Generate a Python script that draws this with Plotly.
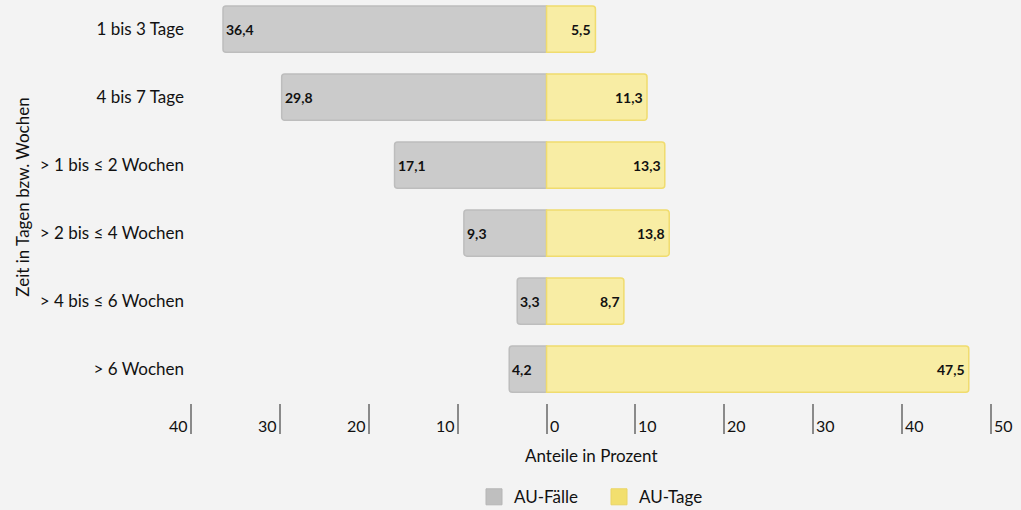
import plotly.graph_objects as go

categories = ["1 bis 3 Tage", "4 bis 7 Tage", "> 1 bis ≤ 2 Wochen", "> 2 bis ≤ 4 Wochen", "> 4 bis ≤ 6 Wochen", "> 6 Wochen"]
au_faelle = [36.4, 29.8, 17.1, 9.3, 3.3, 4.2]
au_tage = [5.5, 11.3, 13.3, 13.8, 8.7, 47.5]
tick_vals = [-40, -30, -20, -10, 0, 10, 20, 30, 40, 50]

FONT = "Lato, Roboto, sans-serif"
BG = "#f3f3f3"

def fmt(v):
    return f"{v:.1f}".replace(".", ",")

fig = go.Figure()
fig.add_trace(go.Bar(
    y=categories, x=[-v for v in au_faelle], orientation="h", name="AU-Fälle",
    marker=dict(color="#cbcbcb", line=dict(color="#bdbdbd", width=1.5), cornerradius=3),
    width=0.68, hoverinfo="skip", showlegend=False,
))
fig.add_trace(go.Bar(
    y=categories, x=au_tage, orientation="h", name="AU-Tage",
    marker=dict(color="#f8eda4", line=dict(color="#f0dc6e", width=1.5), cornerradius=3),
    width=0.68, hoverinfo="skip", showlegend=False,
))
# legend-only entries with larger square swatches
fig.add_trace(go.Scatter(x=[None], y=[None], mode="markers", name="AU-Fälle",
                         marker=dict(symbol="square", size=18, color="#bfbfbf",
                                     line=dict(color="#b5b5b5", width=1))))
fig.add_trace(go.Scatter(x=[None], y=[None], mode="markers", name="AU-Tage",
                         marker=dict(symbol="square", size=18, color="#f2df6e",
                                     line=dict(color="#ead564", width=1))))

ann = []
for c, v in zip(categories, au_faelle):
    ann.append(dict(x=-v, y=c, xref="x", yref="y", text=f"<b>{fmt(v)}</b>", showarrow=False,
                    xanchor="left", xshift=1, font=dict(size=14, color="#111", family=FONT)))
for c, v in zip(categories, au_tage):
    ann.append(dict(x=v, y=c, xref="x", yref="y", text=f"<b>{fmt(v)}</b>", showarrow=False,
                    xanchor="right", xshift=-2, font=dict(size=14, color="#111", family=FONT)))
for t in tick_vals:
    ann.append(dict(x=t, y=-0.055, xref="x", yref="paper", text=str(abs(t)), showarrow=False,
                    xanchor="right" if t < 0 else "left", xshift=-1 if t < 0 else 1,
                    yanchor="middle", font=dict(size=16, color="#111", family=FONT)))
ann.append(dict(x=0.5, y=-0.13, xref="paper", yref="paper", text="Anteile in Prozent", showarrow=False,
                yanchor="middle", font=dict(size=17, color="#111", family=FONT)))
ann.append(dict(x=-0.211, y=0.51, xref="paper", yref="paper", text="Zeit in Tagen bzw. Wochen",
                showarrow=False, textangle=-90, xanchor="center", yanchor="middle",
                font=dict(size=17, color="#111", family=FONT)))

fig.update_layout(
    width=1021, height=510,
    paper_bgcolor=BG, plot_bgcolor=BG,
    margin=dict(l=191, r=30, t=0, b=107, autoexpand=False),
    barmode="relative",
    font=dict(family=FONT, color="#111"),
    annotations=ann,
    showlegend=True,
    legend=dict(orientation="h", x=0.51, xanchor="center", xref="paper",
                y=0.025, yref="container", yanchor="middle",
                font=dict(size=17, color="#111", family=FONT), itemwidth=30,
                entrywidth=80, entrywidthmode="pixels",
                bgcolor="rgba(0,0,0,0)", traceorder="normal"),
    xaxis=dict(range=[-40, 50], tickvals=tick_vals, showticklabels=False, ticks="outside",
               ticklen=30, tickwidth=2, tickcolor="#8a8a8a", showgrid=False, zeroline=False,
               showline=False, fixedrange=True),
    yaxis=dict(categoryorder="array", categoryarray=categories, range=[5.5, -0.43],
               showgrid=False, zeroline=False, showline=False, ticks="",
               tickfont=dict(size=17, color="#111", family=FONT), ticklabelstandoff=6),
)

fig.write_html("out.html")
